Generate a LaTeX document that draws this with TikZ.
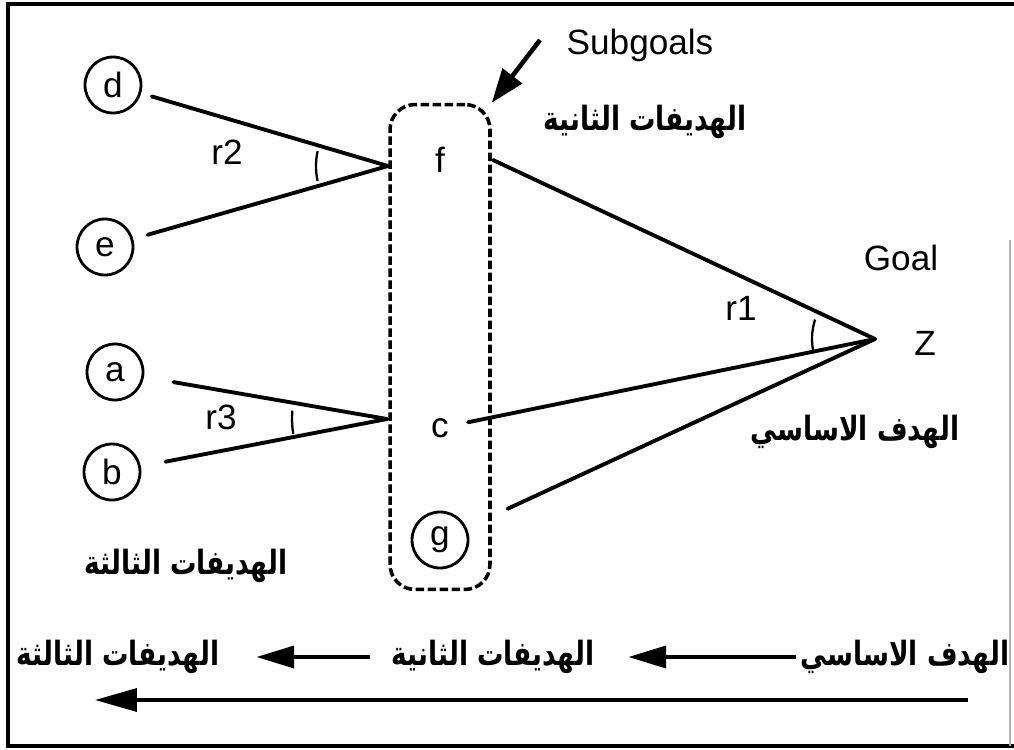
\documentclass[tikz,border=0pt]{standalone}
\usepackage{fontspec}
\setmainfont{Liberation Sans}
\newfontfamily\arabicfont[Script=Arabic]{DejaVu Sans}
\TeXXeTstate=1
\usepackage{graphicx}
\usepackage{tikz}
\usetikzlibrary{arrows.meta}

% narrowed Arabic label
\newcommand{\artext}[1]{\scalebox{0.79}[1]{\beginR #1\endR}}

\begin{document}
\begin{tikzpicture}[
  x=0.02cm, y=-0.02cm,
  every node/.style={font=\fontsize{20}{22}\selectfont},
  goalnode/.style={draw,circle,line width=1.6pt,minimum size=1.12cm,inner sep=0pt},
  plain/.style={inner sep=1pt},
  ar/.style={inner sep=0pt,font=\fontsize{19}{22}\selectfont\arabicfont\bfseries},
  link/.style={line width=2.2pt,line cap=round},
  anglemark/.style={line width=1.3pt},
  bigarr/.style={-{Triangle[length=0.75cm,width=0.44cm]},line width=2pt},
]
\useasboundingbox (0,0) rectangle (1014,750);
% frame
\draw[line width=2pt] (1014,4) -- (8,4) -- (8,746) -- (1014,746);
\draw[gray!60,line width=0.6pt] (1010,240) -- (1010,746);

% third-level subgoals
\node[goalnode] (d) at (113,85)  {d};
\node[goalnode] (e) at (105,247) {e};
\node[goalnode] (a) at (115,372) {a};
\node[goalnode] (b) at (112,472) {b};

% subgoal box
\node[draw,dash pattern=on 0.17cm off 0.07cm,rounded corners=0.5cm,
      line width=2pt,minimum width=2cm,minimum height=9.7cm] (box) at (440,347) {};
\node[plain]    (f) at (440,160) {f};
\node[plain]    (c) at (440,428) {c};
\node[goalnode] (g) at (440,540) {g};
\coordinate (fin)  at (388,166);
\coordinate (cin)  at (387,419);
\coordinate (fout) at (493,160);

% goal
\coordinate (zpt) at (875,339);
\node[plain] (z)    at (925,343) {Z};
\node[plain] (goal) at (901,258) {Goal};

% labels
\node[plain] (sub) at (640,45) {Subgoals};
\node[ar] (arsub)   at (645,122) {\artext{الهديفات الثانية}};
\node[ar] (armain)  at (855,432) {\artext{الهدف الاساسي}};
\node[ar] (arthird) at (186,566) {\artext{الهديفات الثالثة}};
\node[plain] (r2) at (227,152) {r2};
\node[plain] (r3) at (221,417) {r3};
\node[plain] (r1) at (741,308) {r1};

% links
\draw[link,shorten <=0.22cm] (d) -- (fin);
\draw[link,shorten <=0.3cm]  (e) -- (fin);
\draw[link,shorten <=0.6cm]  (a) -- (cin);
\draw[link,shorten <=0.5cm]  (b) -- (cin);
\draw[link] (fout) -- (zpt);
\draw[link,shorten <=0.35cm] (c) -- (zpt);
\draw[link,shorten <=0.9cm]  (g) -- (zpt);

% angle marks
\draw[anglemark] (fin) ++(168:1.44cm) arc[start angle=168,end angle=192,radius=1.44cm];
\draw[anglemark] (cin) ++(175:1.9cm) arc[start angle=175,end angle=189,radius=1.9cm];
\draw[anglemark] (zpt) ++(162:1.26cm) arc[start angle=162,end angle=193,radius=1.26cm];

% subgoals pointer
\coordinate (ptail) at (540,40);
\draw[-{Triangle[length=0.68cm,width=0.48cm]},line width=2.6pt] (ptail) -- (box.north east);

% bottom row
\node[ar] (bmain)  at (905,657) {\artext{الهدف الاساسي}};
\node[ar] (bsec)   at (493,657) {\artext{الهديفات الثانية}};
\node[ar] (bthird) at (118,657) {\artext{الهديفات الثالثة}};
\draw[bigarr,shorten <=0.08cm,shorten >=0.68cm] (bmain) -- (bsec);
\draw[bigarr,shorten <=0.42cm,shorten >=0.74cm] (bsec) -- (bthird);
\coordinate (lstart) at (968,700);
\coordinate (lend)   at (95,700);
\draw[bigarr,-{Triangle[length=0.84cm,width=0.46cm]}] (lstart) -- (lend);
\end{tikzpicture}
\end{document}
